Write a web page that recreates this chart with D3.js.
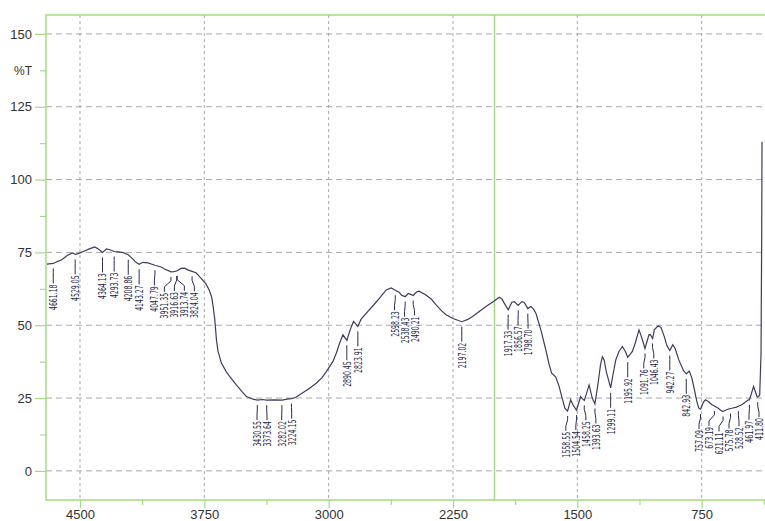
<!DOCTYPE html>
<html>
<head>
<meta charset="utf-8">
<script src="https://cdn.jsdelivr.net/npm/d3@7"></script>
<style>
  body { margin: 0; background: #fff; }
  svg { display: block; }
</style>
</head>
<body>
<div id="chart"></div>
<script>
// spectrum (cm-1, %T)
const wavenumbers = [4700, 4661, 4640, 4610, 4575, 4545, 4529, 4510, 4480, 4440, 4410, 4385, 4364, 4340, 4320, 4294,
  4270, 4240, 4209, 4190, 4160, 4143, 4120, 4090, 4048, 4010, 3990, 3951, 3935, 3917, 3914, 3890, 3870, 3850, 3824,
  3800, 3780, 3760, 3740, 3720, 3705, 3697, 3687, 3677, 3667, 3647, 3617, 3597, 3557, 3520, 3496, 3456, 3430, 3400,
  3373, 3330, 3282, 3250, 3224, 3200, 3175, 3140, 3115, 3075, 3040, 3014, 2975, 2954, 2934, 2914, 2890, 2870, 2850,
  2824, 2805, 2774, 2734, 2693, 2653, 2623, 2598, 2575, 2560, 2538, 2520, 2505, 2490, 2470, 2455, 2413, 2380, 2352,
  2320, 2292, 2250, 2197, 2160, 2132, 2090, 2051, 2010, 1971, 1955, 1941, 1917, 1895, 1880, 1857, 1835, 1820, 1799,
  1780, 1765, 1750, 1720, 1690, 1670, 1655, 1630, 1610, 1590, 1575, 1559, 1540, 1525, 1505, 1480, 1470, 1458, 1445,
  1429, 1410, 1394, 1375, 1360, 1349, 1338, 1325, 1299, 1285, 1268, 1249, 1228, 1210, 1196, 1168, 1150, 1128, 1110,
  1092, 1068, 1060, 1046, 1035, 1012, 995, 975, 960, 942, 924, 910, 888, 860, 843, 825, 810, 798, 780, 768, 757, 740,
  728, 710, 688, 673, 650, 628, 621, 600, 576, 568, 540, 529, 508, 490, 468, 462, 450, 437, 425, 417, 412, 400, 392,
  388, 386];
const transmittance = [71.0, 71.2, 71.8, 72.5, 74.0, 74.8, 74.3, 74.6, 75.3, 76.3, 76.9, 76.0, 75.0, 76.2, 75.9, 75.3,
  75.2, 74.9, 74.2, 73.2, 71.5, 70.9, 71.6, 71.4, 70.6, 70.0, 69.3, 68.3, 68.4, 68.6, 68.7, 69.5, 69.6, 69.0, 68.5,
  68.0, 66.8, 65.5, 64.2, 62.0, 59.5, 56.5, 52.0, 45.0, 41.0, 37.0, 34.0, 32.4, 29.5, 27.0, 25.5, 24.6, 24.3, 24.5,
  24.3, 24.4, 24.3, 24.6, 24.8, 25.2, 26.1, 27.4, 28.4, 30.1, 32.0, 34.1, 37.5, 40.4, 43.8, 46.7, 44.8, 48.5, 51.3,
  49.6, 52.0, 54.1, 56.6, 59.3, 62.1, 62.8, 62.0, 61.3, 60.3, 59.8, 60.9, 60.6, 60.2, 61.4, 61.7, 60.4, 58.9, 57.0,
  55.0, 53.6, 52.3, 51.2, 52.0, 53.0, 54.8, 56.4, 58.0, 59.6, 59.0, 57.6, 55.3, 57.9, 58.1, 56.8, 58.1, 57.8, 55.7,
  56.4, 55.6, 54.1, 48.4, 41.5, 36.5, 33.5, 32.2, 29.0, 24.6, 21.5, 20.5, 24.4, 22.5, 20.8, 25.5, 24.8, 24.2, 26.5,
  29.5, 25.0, 23.0, 30.0, 36.5, 39.2, 38.0, 34.0, 28.5, 33.0, 38.1, 41.0, 42.7, 41.0, 39.0, 41.0, 44.0, 48.4, 45.5,
  42.0, 46.7, 46.8, 45.4, 48.5, 49.8, 49.2, 46.0, 43.0, 41.3, 43.3, 42.0, 38.1, 34.5, 33.3, 34.3, 32.0, 29.0, 24.0,
  21.6, 21.2, 23.5, 24.4, 23.8, 22.7, 22.3, 21.5, 20.5, 20.4, 21.0, 21.4, 21.5, 21.9, 22.2, 22.7, 23.5, 24.4, 24.4,
  26.5, 29.0, 27.0, 25.6, 25.3, 26.0, 40.0, 80.0, 113.0];

const peakLabels = [4661.18, 4529.05, 4364.13, 4293.73, 4208.86, 4143.27, 4047.79, 3951.35, 3916.63, 3913.74, 3824.04,
  3430.55, 3373.64, 3282.02, 3224.15, 2890.45, 2823.91, 2598.23, 2538.43, 2490.21, 2197.02, 1917.33, 1856.57, 1798.70,
  1558.55, 1504.54, 1458.25, 1393.63, 1299.11, 1195.92, 1091.76, 1046.43, 942.27, 842.93, 757.09, 673.19, 621.11,
  575.78, 528.52, 461.97, 411.80];

const yTicks = [0, 25, 50, 75, 100, 125, 150];
const yMinor = [12.5, 37.5, 62.5, 87.5, 112.5, 137.5];
const xTicks = [4500, 3750, 3000, 2250, 1500, 750];
const xMinor = [4125, 3375, 2625, 1875, 1125, 375];
const yUnit = "%T";
const splitAt = 2000;

const W = 765, H = 521;
const green = "#a2dd80";

const svg = d3.select("#chart").append("svg")
  .attr("width", W)
  .attr("height", H);

const x = d3.scaleLinear().domain([4705, 368]).range([46, 765]);
const y = d3.scaleLinear().domain([-10, 156.5]).range([500, 15]);

const data = wavenumbers.map((w, i) => ({ w, t: transmittance[i] }));

// grid
svg.append("g").selectAll("line").data(yTicks).join("line")
  .attr("x1", x.range()[0]).attr("x2", W)
  .attr("y1", d => y(d)).attr("y2", d => y(d))
  .attr("stroke", "#a8a8a8").attr("stroke-dasharray", "6,4");
svg.append("g").selectAll("line").data(xTicks).join("line")
  .attr("x1", d => x(d)).attr("x2", d => x(d))
  .attr("y1", y.range()[1]).attr("y2", y.range()[0])
  .attr("stroke", "#a8a8a8").attr("stroke-dasharray", "3,3");

// frame
const frame = svg.append("g").attr("stroke", green).attr("stroke-width", 1.5).attr("fill", "none");
frame.append("rect")
  .attr("x", x.range()[0]).attr("y", y.range()[1])
  .attr("width", W + 10 - x.range()[0]).attr("height", y.range()[0] - y.range()[1]);
frame.append("line")
  .attr("x1", x(splitAt)).attr("x2", x(splitAt))
  .attr("y1", y.range()[1]).attr("y2", y.range()[0]);

// y axis
svg.append("g").attr("transform", `translate(${x.range()[0]},0)`)
  .call(d3.axisLeft(y).tickValues(yTicks).tickSize(11).tickFormat(d3.format("d")));
svg.append("g").attr("transform", `translate(${x.range()[0]},0)`)
  .call(d3.axisLeft(y).tickValues(yMinor).tickSize(6).tickFormat(d => d === 137.5 ? yUnit : ""));

// x axis
svg.append("g").attr("transform", `translate(0,${y.range()[0]})`)
  .call(d3.axisBottom(x).tickValues(xTicks).tickSize(8).tickPadding(1.5).tickFormat(d3.format("d")));
svg.append("g").attr("transform", `translate(0,${y.range()[0]})`)
  .call(d3.axisBottom(x).tickValues(xMinor.filter(d => d > 368)).tickSize(5).tickFormat(""));

svg.selectAll(".domain").remove();
svg.selectAll(".tick line").attr("stroke", green).attr("stroke-width", 1.2);
svg.selectAll(".tick text")
  .attr("font-family", "Liberation Sans, Arial, sans-serif")
  .attr("font-size", 13).attr("fill", "#333");
svg.selectAll(".tick text").filter(function () { return this.textContent === yUnit; })
  .attr("x", -14).attr("font-size", 12);

// spectrum
svg.append("clipPath").attr("id", "clip").append("rect")
  .attr("x", x.range()[0]).attr("y", y.range()[1])
  .attr("width", W - x.range()[0]).attr("height", y.range()[0] - y.range()[1]);

svg.append("path")
  .datum(data)
  .attr("clip-path", "url(#clip)")
  .attr("fill", "none")
  .attr("stroke", "#3d3d5c")
  .attr("stroke-width", 1.2)
  .attr("d", d3.line().x(d => x(d.w)).y(d => y(d.t)));

// peak labels: curve value at each label, then spread the text columns so they don't collide
const asc = data.slice().reverse();
const bis = d3.bisector(d => d.w).left;
function valueAt(w) {
  const i = Math.max(1, Math.min(asc.length - 1, bis(asc, w)));
  const a = asc[i - 1], b = asc[i];
  return a.t + (b.t - a.t) * (w - a.w) / (b.w - a.w);
}

const gap = 10;
const maxX = W - 6;
let groups = peakLabels.map(w => ({ items: [{ w, px: Math.min(x(w), maxX) }], c: Math.min(x(w), maxX) }));
let merged = true;
while (merged) {
  merged = false;
  for (let i = 0; i < groups.length - 1; i++) {
    const g1 = groups[i], g2 = groups[i + 1];
    const end1 = g1.c + (g1.items.length - 1) * gap / 2;
    const start2 = g2.c - (g2.items.length - 1) * gap / 2;
    if (start2 - end1 < gap) {
      const items = g1.items.concat(g2.items);
      const g = { items, c: d3.mean(items, d => d.px) };
      g.c = Math.min(g.c, maxX - (items.length - 1) * gap / 2);
      groups.splice(i, 2, g);
      merged = true;
      break;
    }
  }
}
const labels = [];
groups.forEach(g => g.items.forEach((d, k) => {
  labels.push({ w: d.w, px: x(d.w), tx: g.c + (k - (g.items.length - 1) / 2) * gap, cy: y(valueAt(d.w)) });
}));

const lab = svg.append("g").selectAll("g").data(labels).join("g");
lab.append("polyline")
  .attr("points", d => [[d.px, d.cy + 5], [d.px, d.cy + 9], [d.tx, d.cy + 15], [d.tx, d.cy + 20]].join(" "))
  .attr("fill", "none").attr("stroke", "#2b2b4f").attr("stroke-width", 1);
lab.append("text")
  .attr("transform", d => `translate(${d.tx},${d.cy + 21}) rotate(-90)`)
  .attr("text-anchor", "end")
  .attr("dy", "0.36em")
  .attr("font-family", "Liberation Sans Narrow, DejaVu Sans Condensed, Arial, sans-serif")
  .attr("font-size", 11)
  .attr("fill", "#26264a")
  .attr("textLength", d => d.w.toFixed(2).length * 3.65)
  .attr("lengthAdjust", "spacingAndGlyphs")
  .text(d => d.w.toFixed(2));
</script>
</body>
</html>
